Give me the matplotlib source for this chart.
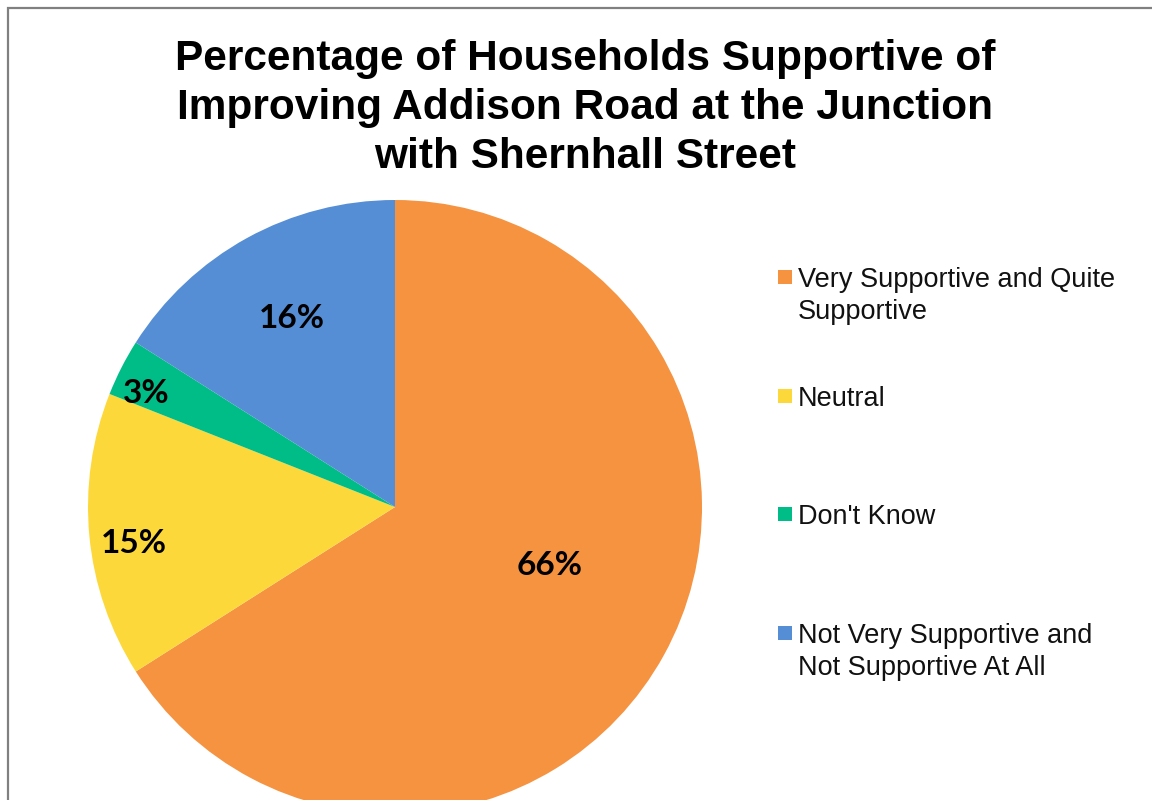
import matplotlib
matplotlib.use("Agg")
import matplotlib.pyplot as plt
from matplotlib.patches import Rectangle
import numpy as np

# ---- data ----
categories = ["Very Supportive and Quite\nSupportive", "Neutral", "Don't Know",
              "Not Very Supportive and\nNot Supportive At All"]
values = [66, 15, 3, 16]
colors = ["#F59340", "#FDD83A", "#00BD87", "#558ED5"]
title = "Percentage of Households Supportive of\nImproving Addison Road at the Junction\nwith Shernhall Street"

# label placement styles (radial distance, angular offset in degrees)
label_r = [0.54, 0.86, 0.89, 0.70]
label_dang = [8.0, 2.5, 2.5, 0.0]

W, H = 1152, 800
fig = plt.figure(figsize=(W / 100, H / 100), dpi=100)
fig.patch.set_facecolor("white")

# border frame
fig.patches.append(Rectangle((8 / W, -0.1), 1.2, (H - 8) / H + 0.1,
                             transform=fig.transFigure, fill=False,
                             edgecolor="#808080", linewidth=1.6))

# pie axes
cx, cy, R = 395, 507, 307
ax = fig.add_axes([(cx - R) / W, (H - cy - R) / H, 2 * R / W, 2 * R / H])
wedges, _ = ax.pie(values, colors=colors, startangle=90, counterclock=False,
                   radius=1.0, wedgeprops=dict(linewidth=0))
ax.set_xlim(-1, 1)
ax.set_ylim(-1, 1)
ax.set_aspect("equal")
ax.axis("off")

for w, v, r, d in zip(wedges, values, label_r, label_dang):
    mid = np.deg2rad((w.theta1 + w.theta2) / 2 + d)
    ax.text(r * np.cos(mid), r * np.sin(mid), f"{v}%", ha="center", va="center",
            fontsize=24, fontweight="bold", family=["Lato", "DejaVu Sans"], color="black")

# title
fig.text(585 / W, 1 - 108 / H, title, ha="center", va="center", fontsize=30.5,
         fontweight="bold", family=["Liberation Sans", "DejaVu Sans"],
         linespacing=1.3)

# legend (manual)
y0, dy = 277, 118.7
for i, (lab, col) in enumerate(zip(categories, colors)):
    yc = y0 + i * dy
    fig.patches.append(Rectangle((778 / W, 1 - (yc + 7) / H), 14 / W, 14 / H,
                                 transform=fig.transFigure, facecolor=col,
                                 edgecolor="none"))
    fig.text(798 / W, 1 - (yc - 10) / H, lab, ha="left", va="top",
             fontsize=19.5, family=["Liberation Sans", "DejaVu Sans"],
             linespacing=1.3, color="#111111")

fig.savefig("out.png", dpi=100)
